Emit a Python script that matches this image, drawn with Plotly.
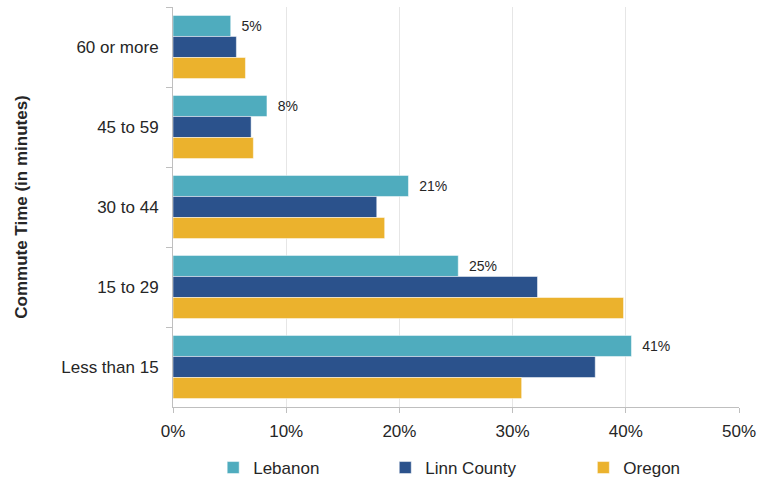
import plotly.graph_objects as go

categories = ["60 or more", "45 to 59", "30 to 44", "15 to 29", "Less than 15"]
lebanon = [5.1, 8.3, 20.8, 25.2, 40.5]
linn_county = [5.6, 6.9, 18.0, 32.2, 37.3]
oregon = [6.4, 7.1, 18.7, 39.8, 30.8]
lebanon_labels = ["5%", "8%", "21%", "25%", "41%"]
x_ticks = [0, 10, 20, 30, 40, 50]
x_tick_labels = ["0%", "10%", "20%", "30%", "40%", "50%"]

FONT = "Liberation Sans"
NB = "\u00a0"
fig = go.Figure()
fig.add_trace(go.Bar(
    y=categories, x=lebanon, name="Lebanon", orientation="h",
    marker=dict(color="#4FACBE", line=dict(color="#FFFFFF", width=0.5)),
    text=[NB * 2 + t for t in lebanon_labels], textposition="outside", cliponaxis=False,
    textfont=dict(family=FONT, size=14, color="#262626"),
    legend="legend",
))
fig.add_trace(go.Bar(
    y=categories, x=linn_county, name="Linn County", orientation="h",
    marker=dict(color="#2B528C", line=dict(color="#FFFFFF", width=0.5)),
    legend="legend2",
))
fig.add_trace(go.Bar(
    y=categories, x=oregon, name="Oregon", orientation="h",
    marker=dict(color="#EBB22D", line=dict(color="#FFFFFF", width=0.5)),
    legend="legend3",
))

leg_common = dict(orientation="h", y=-0.1525, yanchor="middle", xanchor="left",
                  font=dict(size=17, family=FONT, color="#262626"), itemwidth=30,
                  bgcolor="rgba(0,0,0,0)")
fig.update_layout(
    width=761, height=480,
    margin=dict(l=173, r=22, t=7, b=73, autoexpand=False),
    barmode="group", bargap=0.21, bargroupgap=0,
    plot_bgcolor="white", paper_bgcolor="white",
    font=dict(family=FONT, size=17, color="#262626"),
    showlegend=True,
    legend=dict(x=0.071, **leg_common),
    legend2=dict(x=0.375, **leg_common),
    legend3=dict(x=0.725, **leg_common),
)
fig.update_xaxes(
    range=[0, 50], tickvals=x_ticks, ticktext=x_tick_labels,
    showgrid=True, gridcolor="#E6E6E6", gridwidth=1,
    showline=True, linecolor="#BFBFBF", linewidth=1,
    ticks="outside", ticklen=5, tickcolor="#BFBFBF",
    zeroline=False, tickfont=dict(size=17), ticklabelstandoff=4,
)
fig.update_yaxes(
    autorange="reversed", categoryorder="array", categoryarray=categories,
    showline=True, linecolor="#BFBFBF", linewidth=1,
    ticks="outside", ticklen=6, tickcolor="#BFBFBF", tickson="boundaries",
    ticklabelstandoff=10,
    title=dict(text="<b>Commute Time (in minutes)</b>", font=dict(size=17), standoff=29),
    tickfont=dict(size=17), showgrid=False,
)
fig.write_html("out.html")
